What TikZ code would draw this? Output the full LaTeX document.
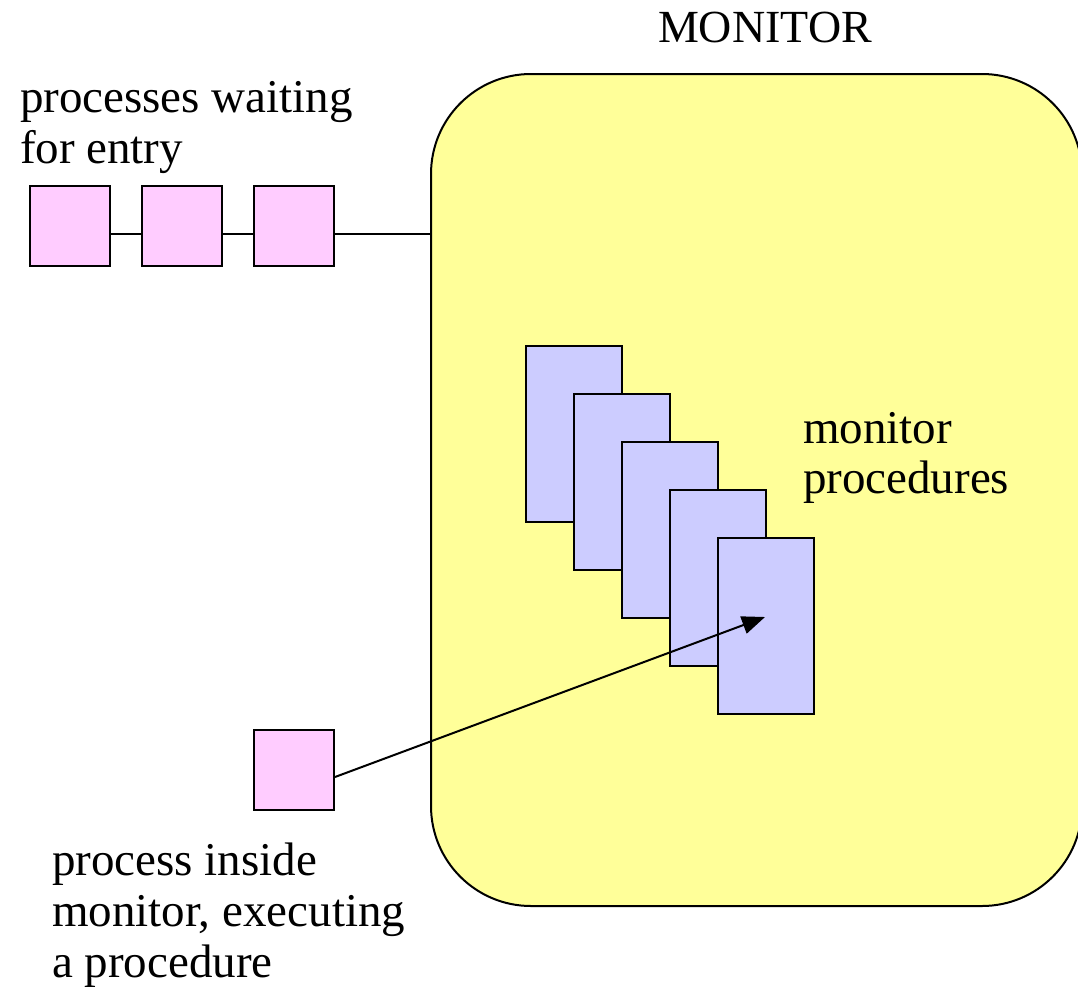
\documentclass[tikz,border=0pt]{standalone}
\usepackage{fontspec}
\setmainfont{Liberation Serif}
\usetikzlibrary{arrows.meta}
\definecolor{monyellow}{HTML}{FFFF99}
\definecolor{procpink}{HTML}{FFCCFF}
\definecolor{proclav}{HTML}{CCCCFF}
\begin{document}
\begin{tikzpicture}[x=1pt, y=-1pt, line width=2pt,
  monbox/.style={draw, fill=monyellow, rounded corners=100pt,
    minimum width=651pt, minimum height=832pt, inner sep=0},
  procsq/.style={draw, fill=procpink, minimum width=80pt, minimum height=80pt, inner sep=0},
  mproc/.style={draw, fill=proclav, minimum width=96pt, minimum height=176pt, inner sep=0},
  lbl/.style={anchor=base west, inner sep=0, font=\fontsize{47}{51}\selectfont},
  link/.style={line width=2pt},
  callarrow/.style={line width=2pt, -{Triangle[length=23pt,width=18pt]}}]
\useasboundingbox (0,0) rectangle (1078,990);

% the monitor
\node[monbox] (monitor) at (756.5,490) {};
\node[anchor=base, inner sep=0, font=\fontsize{46}{51}\selectfont] (montitle) at (765,43) {MONITOR};

% entry queue
\node[procsq] (w1) at (70,226) {};
\node[procsq] (w2) at (182,226) {};
\node[procsq] (w3) at (294,226) {};
\draw[link] ([yshift=-8pt]w1.east) -- ([yshift=-8pt]w2.west);
\draw[link] ([yshift=-8pt]w2.east) -- ([yshift=-8pt]w3.west);
\draw[link] ([yshift=-8pt]w3.east) -- ([yshift=-8pt]w3.east -| monitor.west);

\node[lbl] (waitA) at (19,112) {processes waiting};
\node[lbl] (waitB) at (19,163) {for entry};

% stacked monitor procedures
\node[mproc] (m1) at (574,434) {};
\node[mproc] (m2) at (622,482) {};
\node[mproc] (m3) at (670,530) {};
\node[mproc] (m4) at (718,578) {};
\node[mproc] (m5) at (766,626) {};

\node[lbl] (procA) at (802,443) {monitor};
\node[lbl] (procB) at (802,493) {procedures};

% the process currently inside
\node[procsq] (p) at (294,770) {};
\coordinate (tgt) at (765,617);
\draw[callarrow] ([yshift=-7pt]p.east) -- (tgt);

\node[lbl] (insideA) at (51,875) {process inside};
\node[lbl] (insideB) at (51,926) {monitor, executing};
\node[lbl] (insideC) at (51,977) {a procedure};
\end{tikzpicture}
\end{document}
